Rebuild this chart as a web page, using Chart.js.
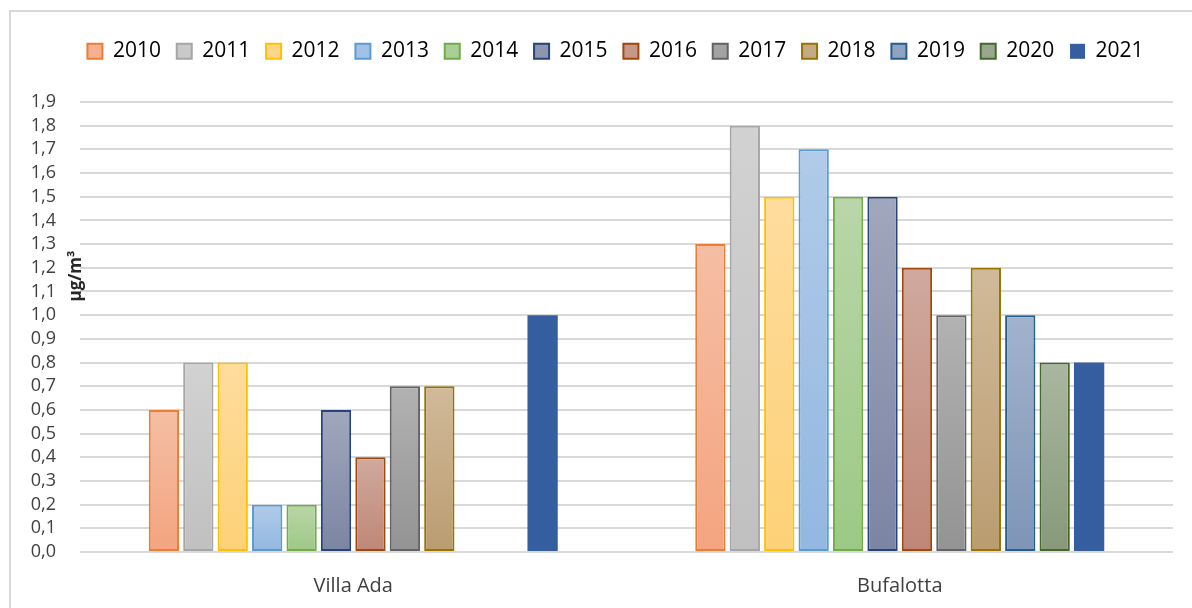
<!DOCTYPE html>
<html>
<head>
<meta charset="utf-8">
<script src="https://cdn.jsdelivr.net/npm/chart.js@4/dist/chart.umd.min.js"></script>
<style>
html,body{margin:0;padding:0;background:#fff;}
#wrap{position:relative;width:1192px;height:608px;}
</style>
</head>
<body>
<div id="wrap"><canvas id="c" width="1192" height="608"></canvas></div>
<script>
// ---- data ----
const categories = ['Villa Ada', 'Bufalotta'];
const years = ['2010','2011','2012','2013','2014','2015','2016','2017','2018','2019','2020','2021'];
const v2010 = [0.6, 1.3];
const v2011 = [0.8, 1.8];
const v2012 = [0.8, 1.5];
const v2013 = [0.2, 1.7];
const v2014 = [0.2, 1.5];
const v2015 = [0.6, 1.5];
const v2016 = [0.4, 1.2];
const v2017 = [0.7, 1.0];
const v2018 = [0.7, 1.2];
const v2019 = [null, 1.0];
const v2020 = [null, 0.8];
const v2021 = [1.0, 0.8];
const yTickMin = 0, yTickMax = 1.9, yTickStep = 0.1;
const yTitle = 'μg/m³';

// ---- styles ----
const seriesValues = [v2010,v2011,v2012,v2013,v2014,v2015,v2016,v2017,v2018,v2019,v2020,v2021];
const borders = ['#ED7D31','#A5A5A5','#FFC000','#5B9BD5','#70AD47','#264478','#9E480E','#636363','#997300','#255E91','#43682B','#355EA0'];
const topCols = ['#F5BEA4','#D2D2D2','#FEDC9D','#B1CBE9','#B9D6A8','#A1A7BC','#D0A99E','#B2B2B2','#D1BA9A','#A2B3CC','#A9B7A0','#355EA0'];
const botCols = ['#F4A480','#C0C0C0','#FDD177','#92B7E1','#9CC985','#7B84A2','#BF8677','#939393','#BA9C70','#7E95B8','#88997A','#355EA0'];
const midCols = ['#F5B092','#C9C9C9','#FDD68A','#A2C1E5','#AACF96','#8E95AF','#C7978A','#A3A3A3','#C5AB85','#90A4C2','#98A88D','#355EA0'];

function gradFor(i){
  return function(ctx){
    const chart = ctx.chart;
    const ys = chart.scales && chart.scales.y;
    if (!chart.chartArea || !ys || ctx.raw == null) return midCols[i];
    const yTop = ys.getPixelForValue(ctx.raw);
    const yBot = ys.getPixelForValue(0);
    if (!isFinite(yTop) || !isFinite(yBot) || yTop === yBot) return midCols[i];
    const g = chart.ctx.createLinearGradient(0, yTop, 0, yBot);
    g.addColorStop(0, topCols[i]);
    g.addColorStop(1, botCols[i]);
    return g;
  };
}

const datasets = years.map((y, i) => ({
  label: y,
  data: seriesValues[i],
  backgroundColor: gradFor(i),
  borderColor: borders[i],
  borderWidth: i === 11 ? 0 : 2,
  borderSkipped: false,
  categoryPercentage: 0.756,
  barPercentage: 0.88
}));

const framePlugin = {
  id: 'frame',
  beforeDraw(chart){
    const c = chart.ctx;
    c.save();
    c.fillStyle = '#ffffff';
    c.fillRect(0,0,chart.width,chart.height);
    c.strokeStyle = '#D9D9D9';
    c.lineWidth = 2;
    c.beginPath();
    c.moveTo(10, 608);
    c.lineTo(10, 11);
    c.lineTo(1192, 11);
    c.stroke();
    c.restore();
  },
  beforeLayout(chart){
    const lg = chart.legend;
    if (lg && !lg._patchedFit){
      const f = lg.fit;
      lg.fit = function(){ f.call(this); this.height = 77; };
      lg._patchedFit = true;
    }
  },
  afterLayout(chart){
    const lg = chart.legend;
    if (lg){ lg.left = 58; lg.right = 1173; lg.width = 1173 - 58; }
  },
  afterDraw(chart){
    const c = chart.ctx;
    c.save();
    c.translate(76, 276);
    c.rotate(-Math.PI/2);
    c.font = "bold 17px 'Open Sans', sans-serif";
    c.fillStyle = '#262626';
    c.textAlign = 'center';
    c.textBaseline = 'middle';
    c.fillText(yTitle, 0, 0);
    c.restore();
  }
};

Chart.defaults.font.family = "'Open Sans', sans-serif";
Chart.defaults.color = '#404040';

new Chart(document.getElementById('c'), {
  type: 'bar',
  data: { labels: categories, datasets },
  plugins: [framePlugin],
  options: {
    responsive: false,
    animation: false,
    layout: { padding: { left: 12, right: 19, top: 25, bottom: 0 } },
    plugins: {
      tooltip: { enabled: false },
      legend: {
        position: 'top',
        align: 'center',
        labels: {
          boxWidth: 15,
          boxHeight: 15,
          padding: 15.8,
          color: '#262626',
          font: { size: 21 },
          generateLabels(chart){
            return chart.data.datasets.map((ds, i) => ({
              text: ds.label,
              fillStyle: midCols[i],
              strokeStyle: borders[i],
              lineWidth: i === 11 ? 0 : 2,
              hidden: false,
              datasetIndex: i
            }));
          }
        }
      }
    },
    scales: {
      x: {
        grid: { display: false },
        border: { display: false },
        ticks: { font: { size: 20 }, color: '#404040', padding: 14 },
        afterFit(s){ s.height = 56; }
      },
      y: {
        min: yTickMin,
        max: yTickMax,
        grid: { color: '#D9D9D9', lineWidth: 2, drawTicks: false },
        border: { display: false },
        ticks: {
          stepSize: yTickStep,
          autoSkip: false,
          padding: 24,
          font: { size: 18 },
          color: '#404040',
          callback: (v) => Number(v).toFixed(1).replace('.', ',')
        },
        afterFit(s){ s.width = 68; }
      }
    }
  }
});
</script>
</body>
</html>
